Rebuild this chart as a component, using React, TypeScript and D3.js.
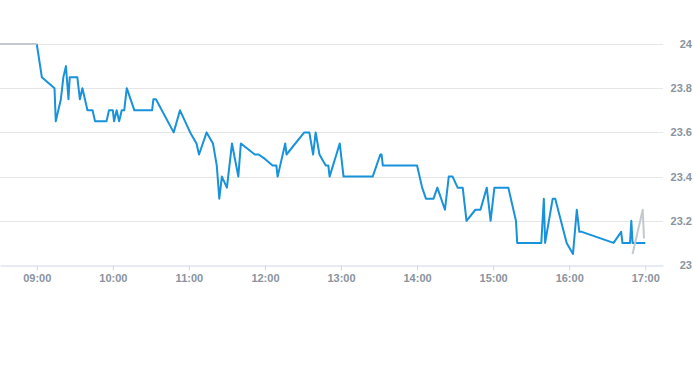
import React, { useEffect, useRef } from 'react';
import * as d3 from 'd3';

// intraday price, blue = regular session
const times = [
  '09:00', '09:04', '09:14', '09:15', '09:19', '09:21', '09:23', '09:25', '09:26', '09:32',
  '09:34', '09:36', '09:40', '09:44', '09:46', '09:55', '09:57', '10:00', '10:01', '10:03',
  '10:05', '10:07', '10:09', '10:11', '10:17', '10:31', '10:32', '10:34', '10:48', '10:53',
  '11:01', '11:06', '11:08', '11:14', '11:19', '11:22', '11:24', '11:26', '11:30', '11:34',
  '11:39', '11:41', '11:52', '11:55', '12:00', '12:06', '12:09', '12:10', '12:16', '12:17',
  '12:31', '12:35', '12:38', '12:40', '12:43', '12:46', '12:48', '12:50', '12:51', '12:59',
  '13:02', '13:25', '13:31', '13:32', '13:33', '14:00', '14:04', '14:07', '14:13', '14:16',
  '14:22', '14:25', '14:28', '14:32', '14:36', '14:39', '14:46', '14:50', '14:55', '14:58',
  '15:01', '15:12', '15:18', '15:19', '15:38', '15:40', '15:41', '15:47', '15:49', '15:58',
  '16:03', '16:06', '16:08', '16:10', '16:35', '16:41', '16:42', '16:48', '16:49', '16:50',
  '17:00',
];
const prices = [
  24.0, 23.85, 23.8, 23.65, 23.75, 23.85, 23.9, 23.75, 23.85, 23.85,
  23.75, 23.8, 23.7, 23.7, 23.65, 23.65, 23.7, 23.7, 23.65, 23.7,
  23.65, 23.7, 23.7, 23.8, 23.7, 23.7, 23.75, 23.75, 23.6, 23.7,
  23.6, 23.55, 23.5, 23.6, 23.55, 23.45, 23.3, 23.4, 23.35, 23.55,
  23.4, 23.55, 23.5, 23.5, 23.48, 23.45, 23.45, 23.4, 23.55, 23.5,
  23.6, 23.6, 23.5, 23.6, 23.5, 23.47, 23.45, 23.45, 23.4, 23.55,
  23.4, 23.4, 23.5, 23.5, 23.45, 23.45, 23.35, 23.3, 23.3, 23.35,
  23.25, 23.4, 23.4, 23.35, 23.35, 23.2, 23.25, 23.25, 23.35, 23.2,
  23.35, 23.35, 23.2, 23.1, 23.1, 23.3, 23.1, 23.3, 23.3, 23.1,
  23.05, 23.25, 23.15, 23.15, 23.1, 23.15, 23.1, 23.1, 23.2, 23.1,
  23.1,
];

// grey = outside the session
const preTimes = ['08:31', '09:00'];
const preValues = [24.0, 24.0];
const postTimes = ['16:50', '16:58', '16:59'];
const postValues = [23.05, 23.25, 23.12];

const xTicks = ['09:00', '10:00', '11:00', '12:00', '13:00', '14:00', '15:00', '16:00', '17:00'];
const yTicks = [23, 23.2, 23.4, 23.6, 23.8, 24];

const parse = d3.timeParse('%H:%M');

const App = () => {
  const svgRef = useRef(null);

  useEffect(() => {
    const svg = d3.select(svgRef.current);
    svg.selectAll('*').remove();
    const plotW = 663;

    const x = d3.scaleTime()
      .domain([parse('08:31'), parse('17:14')])
      .range([0, plotW]);
    const y = d3.scaleLinear()
      .domain([23, 24])
      .range([265, 44]);

    const font = '"Liberation Sans", Arial, sans-serif';
    const labelColor = '#8a939d';

    // grid
    svg.append('g')
      .selectAll('line')
      .data(yTicks.filter(d => d !== 23))
      .join('line')
      .attr('x1', 0)
      .attr('x2', plotW)
      .attr('y1', d => Math.round(y(d)) + 0.5)
      .attr('y2', d => Math.round(y(d)) + 0.5)
      .attr('stroke', '#e6e6e6');

    svg.append('g')
      .selectAll('text')
      .data(yTicks)
      .join('text')
      .attr('x', 692)
      .attr('y', d => y(d) + 4)
      .attr('text-anchor', 'end')
      .attr('font-family', font)
      .attr('font-size', 11)
      .attr('font-weight', 'bold')
      .attr('fill', labelColor)
      .text(d => d3.format('~g')(d));

    // x axis
    const xAxis = d3.axisBottom(x)
      .tickValues(xTicks.map(t => parse(t)))
      .tickFormat(d3.timeFormat('%H:%M'))
      .tickSize(5)
      .tickSizeOuter(0)
      .tickPadding(4);
    const gx = svg.append('g')
      .attr('transform', 'translate(0,265.5)')
      .call(xAxis);
    gx.select('.domain').attr('stroke', '#ccd6eb');
    gx.selectAll('.tick line').attr('stroke', '#ccd6eb');
    gx.selectAll('.tick text')
      .attr('font-family', font)
      .attr('font-size', 11)
      .attr('font-weight', 'bold')
      .attr('fill', labelColor);

    const line = d3.line()
      .x(d => x(d[0]))
      .y(d => y(d[1]));

    const zip = (ts, vs) => ts.map((t, i) => [parse(t), vs[i]]);

    svg.append('path')
      .datum(zip(times, prices))
      .attr('fill', 'none')
      .attr('stroke', '#1792db')
      .attr('stroke-width', 2)
      .attr('stroke-linejoin', 'round')
      .attr('d', line);

    [zip(preTimes, preValues), zip(postTimes, postValues)].forEach(seg => {
      svg.append('path')
        .datum(seg)
        .attr('fill', 'none')
        .attr('stroke', '#c3c9ce')
        .attr('stroke-width', 2)
        .attr('stroke-linejoin', 'round')
        .attr('d', line);
    });
  }, []);

  return (
    <svg
      ref={svgRef}
      width={693}
      height={365}
      style={{ position: 'absolute', left: 0, top: 0, background: '#fff' }}
    ></svg>
  );
};

export default App;
